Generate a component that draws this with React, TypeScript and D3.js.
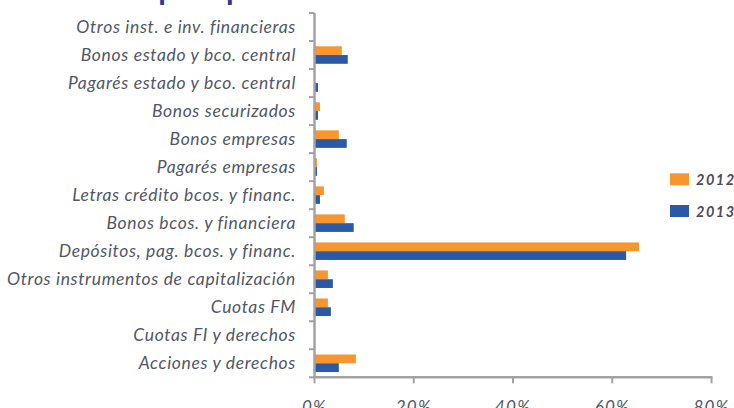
import React from "react";
import * as d3 from "d3";

const categories = [
  "Otros inst. e inv. financieras",
  "Bonos estado y bco. central",
  "Pagarés estado y bco. central",
  "Bonos securizados",
  "Bonos empresas",
  "Pagarés empresas",
  "Letras crédito bcos. y financ.",
  "Bonos bcos. y financiera",
  "Depósitos, pag. bcos. y financ.",
  "Otros instrumentos de capitalización",
  "Cuotas FM",
  "Cuotas FI y derechos",
  "Acciones y derechos",
];
const series = ["2012", "2013"];
const values2012 = [0, 5.5, 0, 1.1, 4.9, 0.5, 1.9, 6.1, 65.4, 2.7, 2.7, 0, 8.35];
const values2013 = [0, 6.7, 0.7, 0.7, 6.5, 0.5, 1.1, 7.9, 62.8, 3.7, 3.3, 0, 4.9];
const xTicks = [0, 20, 40, 60, 80];
const colors: Record<string, string> = { "2012": "#F7962F", "2013": "#2A59A8" };
const title = "Cartera por tipo de instrumento";

const W = 734;
const H = 408;

export default function App() {
  const x = d3.scaleLinear().domain([0, 80]).range([314.5, 711.5]);
  const y = d3.scaleBand<string>().domain(categories).range([13, 377.3]).paddingInner(0).paddingOuter(0);
  const y1 = d3.scaleBand<string>().domain(series).range([0, y.bandwidth()]).paddingInner(0).paddingOuter(0.6);
  const data = categories.map((c, i) => ({ c, v: { "2012": values2012[i], "2013": values2013[i] } as Record<string, number> }));
  const axisColor = "#a3a3a6";
  const textColor = "#525766";
  const boundaries = categories.map((c) => y(c)!).concat([y.range()[1]]);
  return (
    <svg width={W} height={H} style={{ position: "absolute", left: 0, top: 0, background: "#fff" }}>
      {/* title, cut off at the top edge as in the reference: only descenders show */}
      <text x={55} y={-0.5} fontFamily="Lato" fontWeight={700} fontSize={31} letterSpacing={-0.9} fill="#323a86">
        {title}
      </text>
      {data.map((d) => (
        <g key={d.c} transform={`translate(0,${y(d.c)})`}>
          {series.map((s) => (
            <rect
              key={s}
              x={x(0)}
              y={y1(s)!}
              width={Math.max(0, x(d.v[s]) - x(0))}
              height={y1.bandwidth()}
              fill={colors[s]}
            />
          ))}
          <text
            x={296}
            y={y.bandwidth() / 2 + 5.8}
            textAnchor="end"
            fontFamily="Lato"
            fontStyle="italic"
            fontSize={17.5}
            letterSpacing={0.65}
            fill={textColor}
          >
            {d.c}
          </text>
        </g>
      ))}
      {/* left axis */}
      <line x1={x(0)} x2={x(0)} y1={y.range()[0]} y2={y.range()[1]} stroke={axisColor} strokeWidth={2.5} />
      {boundaries.map((b, i) => (
        <line key={i} x1={309} x2={x(0)} y1={b} y2={b} stroke={axisColor} strokeWidth={2} />
      ))}
      {/* bottom axis */}
      <line x1={x(0) - 1.5} x2={x(80) + 1} y1={y.range()[1]} y2={y.range()[1]} stroke={axisColor} strokeWidth={2.5} />
      {xTicks.map((t) => (
        <g key={t}>
          <line x1={x(t)} x2={x(t)} y1={y.range()[1]} y2={y.range()[1] + 6} stroke={axisColor} strokeWidth={2} />
          <text
            x={x(t)}
            y={412.5}
            textAnchor="middle"
            fontFamily="Lato"
            fontStyle="italic"
            fontSize={17}
            letterSpacing={1.2}
            fill={textColor}
          >
            {t + "%"}
          </text>
        </g>
      ))}
      {/* legend */}
      {series.map((s, i) => (
        <g key={s} transform={`translate(670,${173.3 + i * 31.7})`}>
          <rect x={0} y={0} width={19} height={12} fill={colors[s]} />
          <text x={26} y={11.5} fontFamily="Lato" fontStyle="italic" fontWeight={700} fontSize={14.5} letterSpacing={1.5} fill="#4a4d57">
            {s}
          </text>
        </g>
      ))}
    </svg>
  );
}
